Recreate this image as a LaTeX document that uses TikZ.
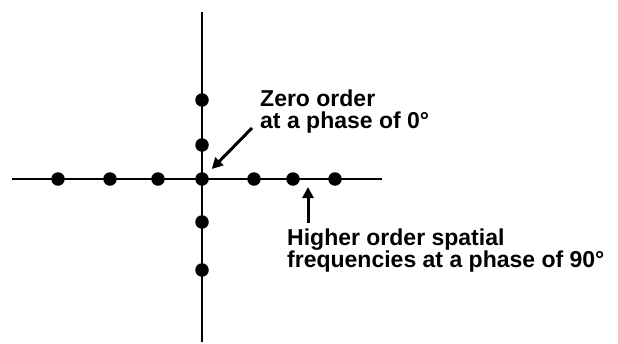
\documentclass[tikz,border=0pt]{standalone}
\usepackage{fontspec}
\setmainfont{Liberation Sans}
\usetikzlibrary{arrows.meta}
\tikzset{
  axis/.style={draw=black, line width=2.8pt},
  spot/.style={circle, fill=black, inner sep=0pt, minimum size=13.5pt},
  pointer/.style={-{Triangle[length=11pt,width=11pt]}, draw=black, line width=3pt},
  caption/.style={font=\fontsize{23}{22}\selectfont\bfseries, align=left, inner sep=0pt},
}

\begin{document}
\begin{tikzpicture}[x=1pt,y=-1pt]
  \useasboundingbox (0,0) rectangle (618,343);

  % axes
  \draw[axis] (12,179) -- (382,179);
  \draw[axis] (202,12) -- (202,342);

  % orders along the axes
  \foreach \x [count=\i] in {58,110,158,202,254,293,335}
    \node[spot] (h\i) at (\x,179) {};
  \foreach \y [count=\i] in {100,145,222,270}
    \node[spot] (v\i) at (202,\y) {};

  % captions
  \node[caption, anchor=north west] (zero) at (260,90)
    {Zero order\\at a phase of 0°};
  \node[caption, anchor=north west] (high) at (287,229)
    {Higher order spatial\\frequencies at a phase of 90°};

  \coordinate (zt) at (252,128);
  \coordinate (ht) at (308,223);
  \coordinate (hp) at (308,187);

  \draw[pointer, shorten >=7pt] (zt) -- (h4);
  \draw[pointer] (ht) -- (hp);
\end{tikzpicture}
\end{document}
